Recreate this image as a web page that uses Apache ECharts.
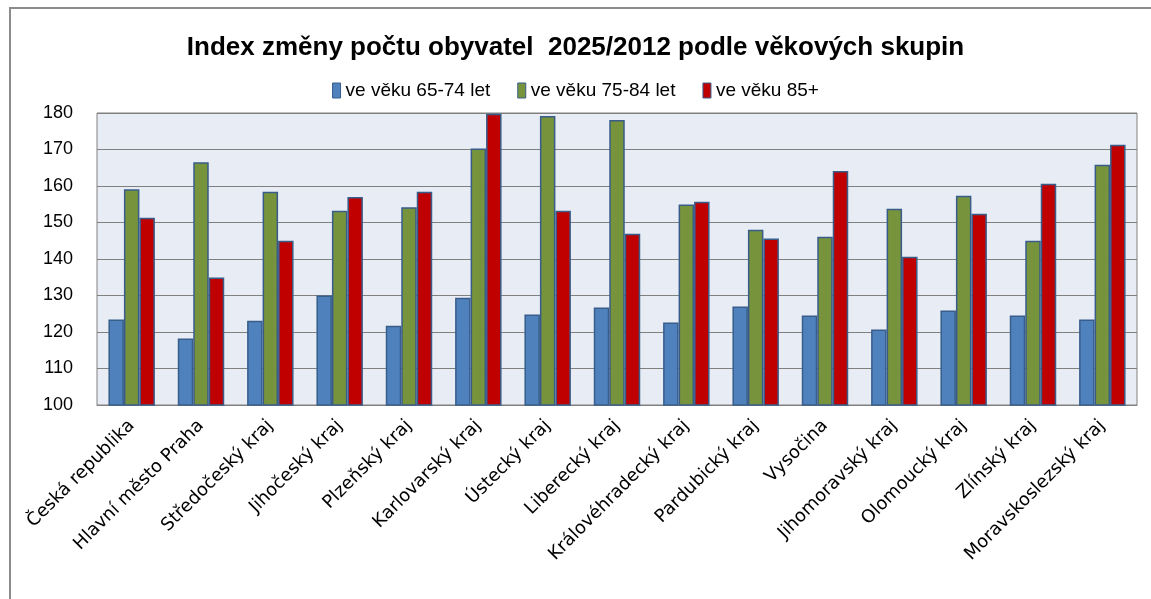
<!DOCTYPE html>
<html><head><meta charset="utf-8">
<script src="https://cdn.jsdelivr.net/npm/echarts@6/dist/echarts.min.js"></script>
<style>html,body{margin:0;padding:0;background:#fff}#c{width:1151px;height:599px}</style>
</head><body><div id="c"></div>
<script>
const categories = ["Česká republika","Hlavní město Praha","Středočeský kraj","Jihočeský kraj","Plzeňský kraj","Karlovarský kraj","Ústecký kraj","Liberecký kraj","Královéhradecký kraj","Pardubický kraj","Vysočina","Jihomoravský kraj","Olomoucký kraj","Zlínský kraj","Moravskoslezský kraj"];
const age65_74 = [123.4,118.2,123.1,130.0,121.7,129.4,124.8,126.7,122.6,127.0,124.5,120.7,125.9,124.5,123.4];
const age75_84 = [159.1,166.5,158.4,153.2,154.2,170.3,179.2,178.1,154.9,148.0,146.1,153.8,157.3,145.0,165.8];
const age85 = [151.3,134.9,145.0,157.0,158.4,179.8,153.2,146.9,155.7,145.6,164.1,140.6,152.4,160.6,171.3];
const seriesNames = ["ve věku 65-74 let","ve věku 75-84 let","ve věku 85+"];
const colors = ["#4F81BD","#77933C","#C00000"];
const font = "Liberation Sans, Arial, sans-serif";

const chart = echarts.init(document.getElementById('c'), null, {renderer:'canvas'});
const mk = (name, data, color) => ({
  name, type:'bar', data, barGap:'0%', barCategoryGap:'33%',
  itemStyle:{color, borderColor:'#385D8A', borderWidth:1.5},
  emphasis:{disabled:true}
});
chart.setOption({
  animation:false,
  graphic:[{type:'rect', shape:{x:10,y:8,width:1160,height:620}, style:{fill:'none', stroke:'#8c8c8c', lineWidth:2}, z:-10}],
  title:{text:'Index změny počtu obyvatel  2025/2012 podle věkových skupin', left:'center', top:30,
    textStyle:{fontFamily:font, fontSize:26, fontWeight:'bold', color:'#000'}},
  legend:{top:76, left:'center', itemWidth:8, itemHeight:15, itemGap:27, icon:'rect',
    textStyle:{fontFamily:font, fontSize:19, color:'#000'},
    data:seriesNames.map((n,i)=>({name:n, itemStyle:{color:colors[i], borderColor:'#385D8A', borderWidth:1}}))},
  grid:{left:97, right:14, top:113, bottom:194, show:true, backgroundColor:'#E8ECF4', borderColor:'#808080', borderWidth:1},
  xAxis:{type:'category', data:categories,
    axisLine:{show:true, lineStyle:{color:'#808080'}}, axisTick:{show:false},
    axisLabel:{rotate:45, interval:0, fontFamily:'DejaVu Sans, sans-serif', fontSize:18, color:'#000', margin:18}},
  yAxis:{type:'value', min:100, max:180, interval:10,
    axisLine:{show:false}, axisTick:{show:false},
    splitLine:{lineStyle:{color:'#808080', width:1}},
    axisLabel:{fontFamily:font, fontSize:18, color:'#000', margin:24}},
  series:[mk(seriesNames[0], age65_74, colors[0]), mk(seriesNames[1], age75_84, colors[1]), mk(seriesNames[2], age85, colors[2])]
});
</script></body></html>
